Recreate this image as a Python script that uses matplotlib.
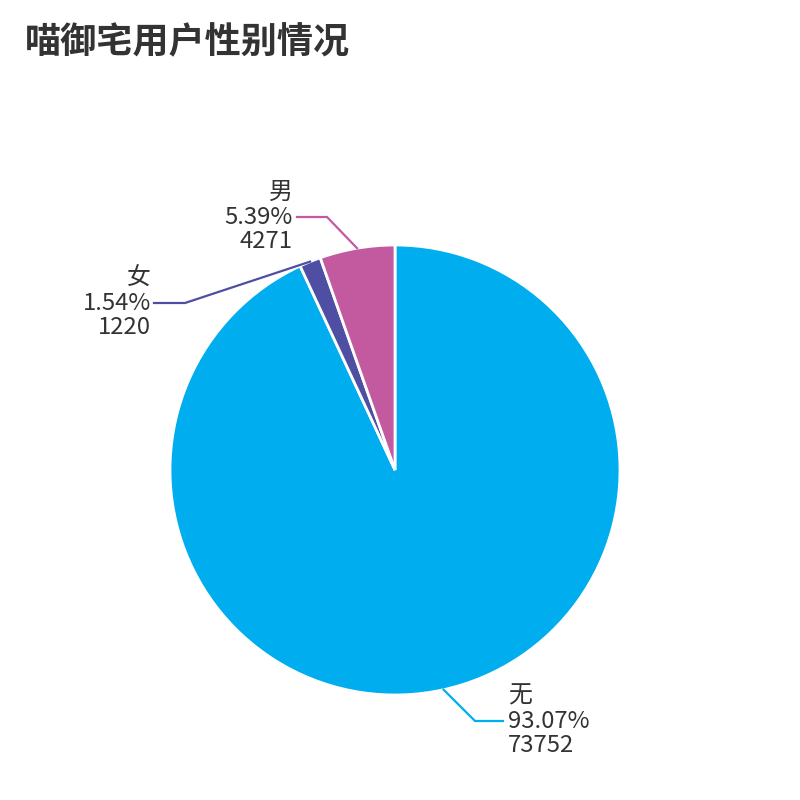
import matplotlib
matplotlib.use("Agg")
import matplotlib.pyplot as plt
import numpy as np

plt.rcParams["font.family"] = ["Noto Sans CJK SC", "DejaVu Sans"]

# data (clockwise from 12 o'clock)
labels = ["无", "女", "男"]
counts = [73752, 1220, 4271]
percents = ["93.07%", "1.54%", "5.39%"]
colors = ["#00AEEF", "#4E4FA2", "#C35AA0"]
title = "喵御宅用户性别情况"

W = H = 800
CX, CY, R = 395, 470, 225  # pixel layout, y from top

# label elbow / end / text anchor (pixels, y from top)
label_layout = {
    "无": dict(elbow=(475, 721), end=(503, 721), text_x=508, ha="left"),
    "女": dict(elbow=(185, 303), end=(154, 303), text_x=151, ha="right"),
    "男": dict(elbow=(327, 217), end=(297, 217), text_x=293, ha="right"),
}


def Y(py):
    return H - py


fig = plt.figure(figsize=(8, 8), dpi=100)
ax = fig.add_axes([0, 0, 1, 1])

wedges, _ = ax.pie(
    counts,
    colors=colors,
    startangle=90,
    counterclock=False,
    center=(CX, Y(CY)),
    radius=R,
    wedgeprops=dict(edgecolor="white", linewidth=2),
)
ax.set_xlim(0, W)
ax.set_ylim(0, H)
ax.set_aspect("equal")
ax.axis("off")

for w, lab, cnt, pct, col in zip(wedges, labels, counts, percents, colors):
    mid = np.deg2rad((w.theta1 + w.theta2) / 2)
    sx = CX + R * np.cos(mid)
    sy = CY - R * np.sin(mid)
    lay = label_layout[lab]
    ex, ey = lay["elbow"]
    tx, ty = lay["end"]
    ax.plot([sx, ex, tx], [Y(sy), Y(ey), Y(ty)], color=col, lw=1.6,
            solid_joinstyle="miter")
    for k, line in enumerate([lab, pct, str(cnt)]):
        ax.text(lay["text_x"], Y(ey + (k - 1) * 25), line, ha=lay["ha"],
                va="center", fontsize=17.2, color="#333333")

fig.text(25 / W, 1 - 43 / H, title, ha="left", va="center", fontsize=26,
         fontweight="semibold", color="#333333")

fig.savefig("out.png", dpi=100, facecolor="white")
